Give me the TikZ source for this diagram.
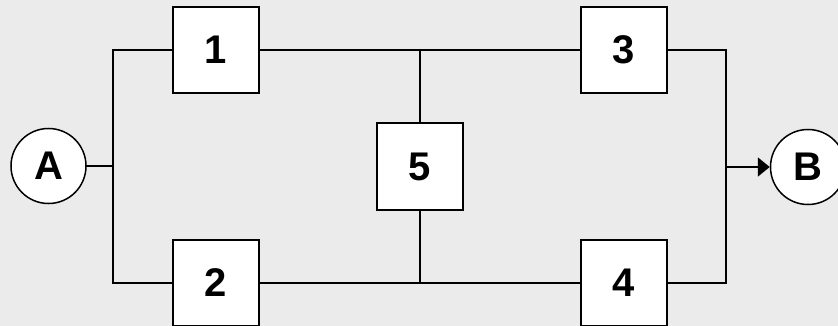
\documentclass[tikz,border=0pt]{standalone}
\usepackage{fontspec}
\setmainfont{Liberation Sans}
\usetikzlibrary{arrows.meta}
\begin{document}
\begin{tikzpicture}[x=1pt,y=-1pt,
  blk/.style={draw=black,line width=2pt,fill=white,minimum width=86pt,minimum height=86pt,inner sep=0pt,font=\fontsize{40}{40}\selectfont\bfseries},
  term/.style={circle,draw=black,line width=1.5pt,fill=white,minimum size=75pt,inner sep=0pt,font=\fontsize{40}{40}\selectfont\bfseries},
  wire/.style={line width=2pt,line cap=rect}]
\fill[fill={rgb,255:red,235;green,235;blue,235}] (0,0) rectangle (838,326);
\useasboundingbox (0,0) rectangle (838,326);
\begin{scope}
\clip (0,0) rectangle (838,326);
\node[term] (A) at (48.5,166) {A};
\node[term] (B) at (808,167) {B};
\node[blk] (b1) at (216,50) {1};
\node[blk] (b2) at (216,283) {2};
\node[blk] (b3) at (624,50) {3};
\node[blk] (b4) at (624,283) {4};
\node[blk] (b5) at (420,166.5) {5};
\coordinate (lt) at (113,50);
\coordinate (lb) at (113,283);
\coordinate (lm) at (113,166);
\coordinate (rt) at (726,50);
\coordinate (rb) at (726,283);
\coordinate (rm) at (726,167);
\coordinate (mt) at (420,50);
\coordinate (mb) at (420,283);
\draw[wire] (A) -- (lm);
\draw[wire] (lt) -- (lb);
\draw[wire] (lt) -- (b1.west);
\draw[wire] (lb) -- (b2.west);
\draw[wire] (b1.east) -- (b3.west);
\draw[wire] (b2.east) -- (b4.west);
\draw[wire] (mt) -- (b5.north);
\draw[wire] (b5.south) -- (mb);
\draw[wire] (b3.east) -- (rt) -- (rb) -- (b4.east);
\draw[wire,-{Triangle[length=12pt,width=19pt]}] (rm) -- (B.west);
\end{scope}
\end{tikzpicture}
\end{document}
